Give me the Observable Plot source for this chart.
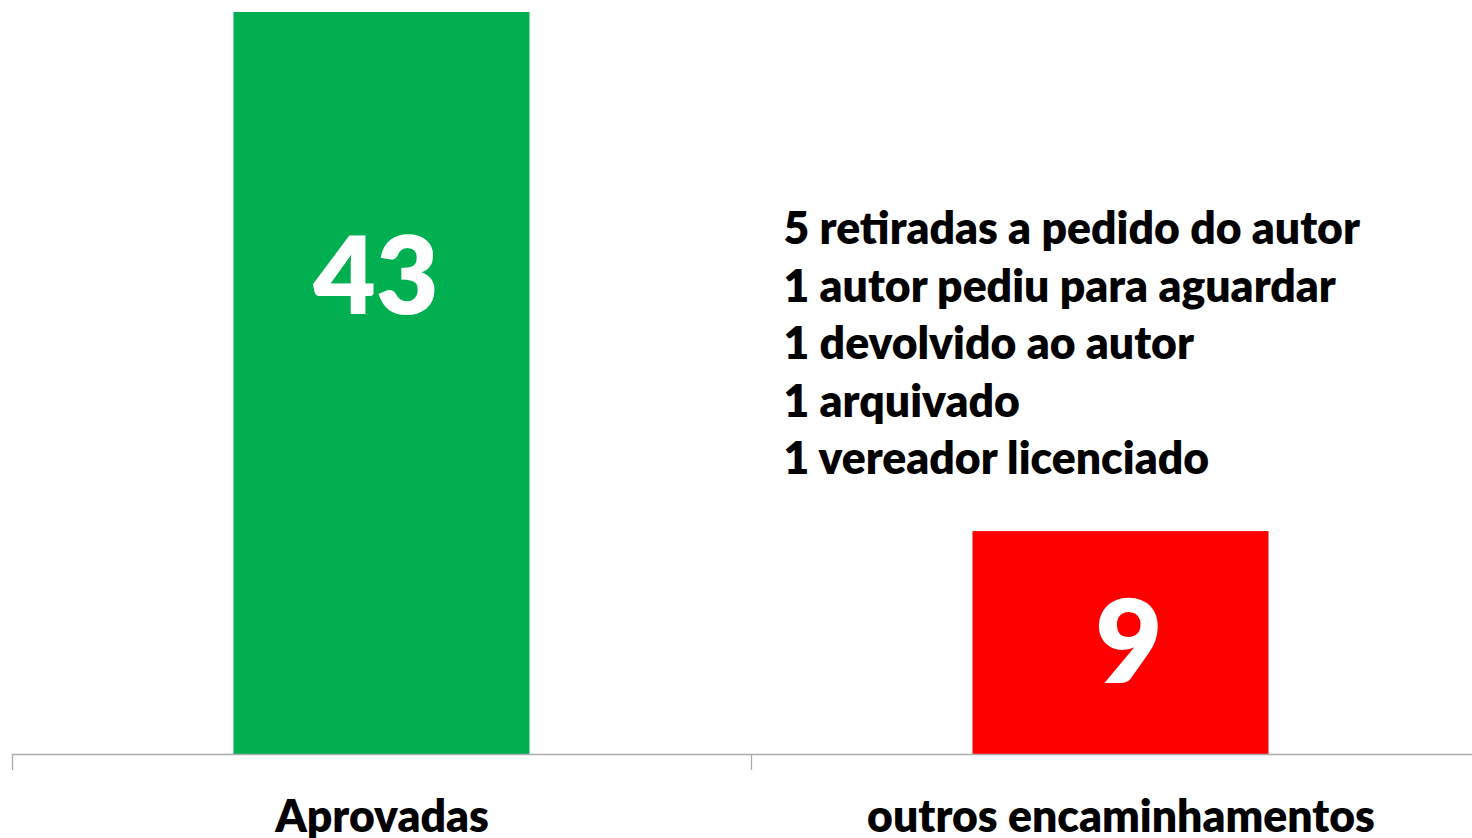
<!DOCTYPE html>
<html>
<head>
<meta charset="utf-8">
<script src="https://cdn.jsdelivr.net/npm/d3@7"></script>
<script src="https://cdn.jsdelivr.net/npm/@observablehq/plot@0.6"></script>
<style>
  html, body { margin: 0; padding: 0; background: #fff; }
  #chart svg { display: block; }
</style>
</head>
<body>
<div id="chart"></div>
<script>
const categories = ["Aprovadas", "outros encaminhamentos"];
const values = [43, 9];
const colors = ["#00B050", "#FF0000"];
const notes = [
  "5 retiradas a pedido do autor",
  "1 autor pediu para aguardar",
  "1 devolvido ao autor",
  "1 arquivado",
  "1 vereador licenciado"
];
const yMin = -5.6;

const data = categories.map((c, i) => ({ i, label: c, value: values[i], color: colors[i] }));
const font = "Lato, 'Open Sans', sans-serif";

const chart = Plot.plot({
  width: 1472,
  height: 838,
  marginLeft: 12,
  marginRight: -18,
  marginTop: 12,
  marginBottom: 84,
  style: { fontFamily: font, background: "#fff" },
  x: { domain: [0, categories.length], axis: null },
  y: { domain: [yMin, d3.max(values)], axis: null },
  marks: [
    Plot.rectY(data, {
      x1: d => d.i, x2: d => d.i + 1, y1: yMin, y2: "value",
      fill: "color", insetLeft: 221.5, insetRight: 221.5
    }),
    Plot.ruleY([yMin], { stroke: "#ABABAB", strokeWidth: 1.3 }),
    Plot.axisX({
      ticks: d3.range(categories.length + 1), tickSize: 16, tickFormat: () => "",
      stroke: "#ABABAB", strokeWidth: 1.3
    }),
    Plot.text(data, {
      x: d => d.i + 0.5, y: yMin, text: "label", dy: 63,
      fontSize: 44.5, fontWeight: 800, fill: "#000", lineAnchor: "middle"
    }),
    Plot.text(data.filter(d => d.i === 0), {
      x: d => d.i + 0.5, y: d => (d.value + yMin) / 2, text: d => String(d.value), dx: -6, dy: -104,
      fontSize: 108, fontWeight: 800, fill: "#fff", lineAnchor: "middle"
    }),
    Plot.text(data.filter(d => d.i === 1), {
      x: d => d.i + 0.5, y: d => (d.value + yMin) / 2, text: d => String(d.value), dx: 8, dy: 3,
      fontSize: 116, fontWeight: 800, fill: "#fff", lineAnchor: "middle"
    }),
    Plot.text([notes.join("\n")], {
      frameAnchor: "top-left", dx: 771, dy: 191, text: d => d,
      fontSize: 44.5, fontWeight: 800, fill: "#000", textAnchor: "start",
      lineAnchor: "top", lineHeight: 1.292
    })
  ]
});
document.getElementById("chart").appendChild(chart);
</script>
</body>
</html>
